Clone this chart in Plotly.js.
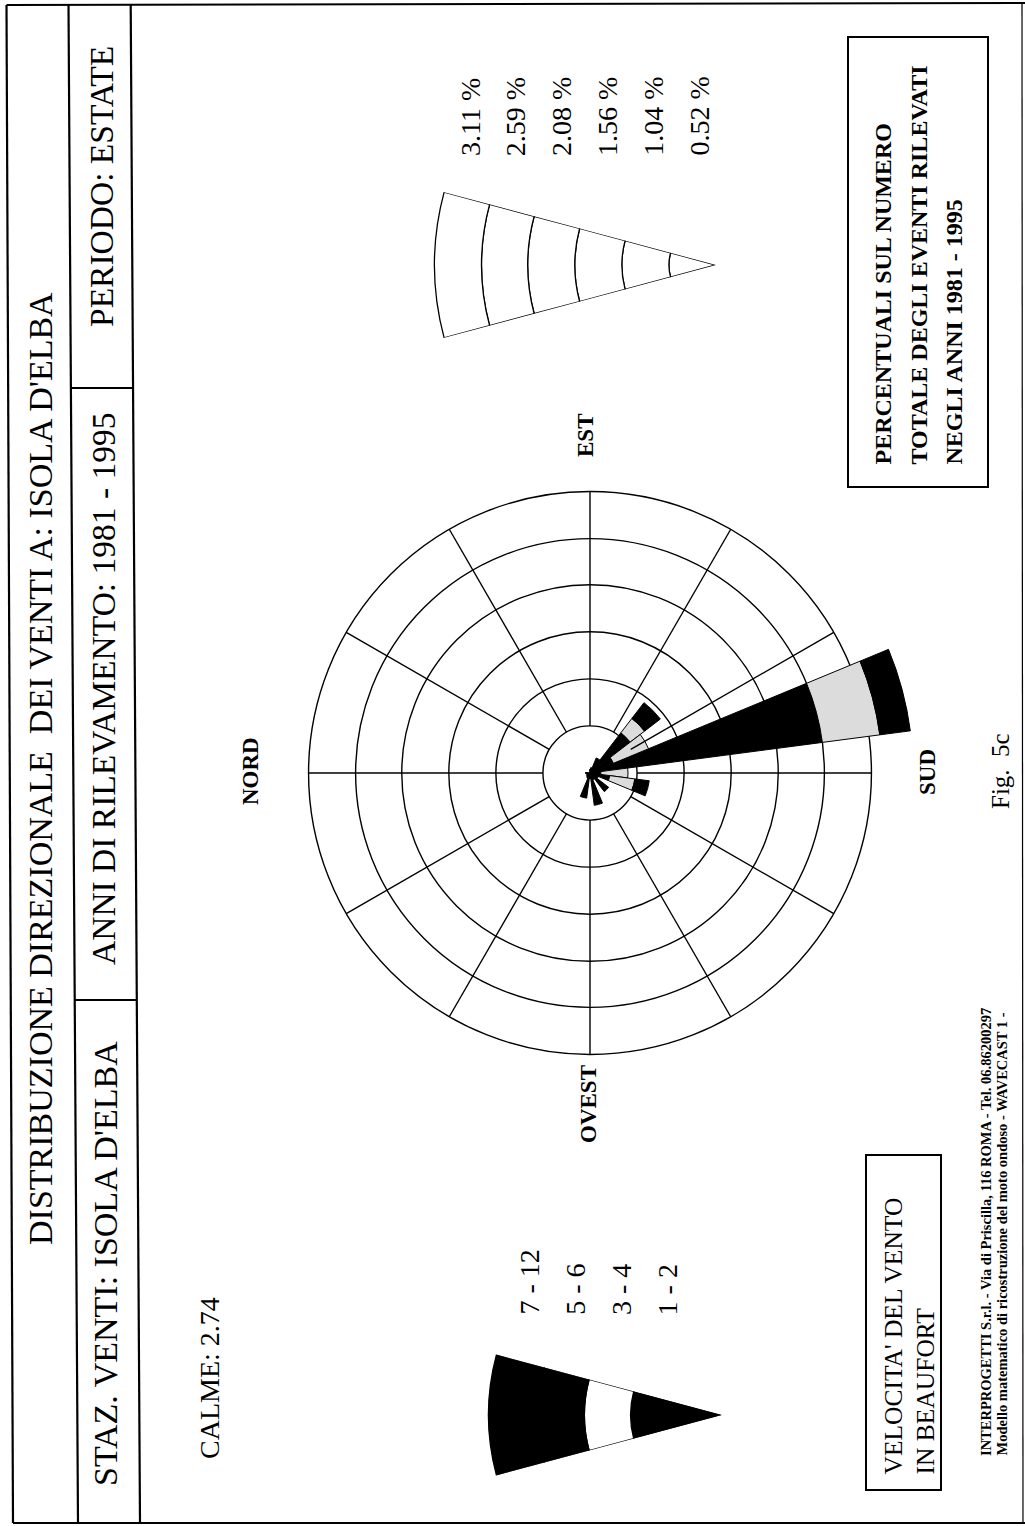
<!DOCTYPE html>
<html>
<head>
<meta charset="utf-8">
<script src="https://cdn.plot.ly/plotly-3.0.1.min.js"></script>
<style>
html,body{margin:0;padding:0;background:#fff;}
#chart{width:1025px;height:1526px;}
</style>
</head>
<body>
<div id="chart"></div>
<script>
// ---------------- DATA ----------------
// wind directions (degrees from North, 15-degree sectors)
const directions = [0,15,30,45,60,75,90,105,120,135,150,165,180,195,210,225,240,255,270,285,300,315,330,345];
// frequency (%) per Beaufort class, stacked outward
const beaufort1_2  = [0.05,0,0,0,0,0,0.04,0.06,0.18,0.56,0.28,2.59,0.12,0.22,0.10,0.26,0.08,0.36,0.06,0.28,0.06,0.05,0.04,0.03];
const beaufort3_4  = [0,0,0,0,0,0,0,0,0,0.20,0.42,0.64,0.30,0.28,0,0,0,0,0,0,0,0,0,0];
const beaufort5_6  = [0,0,0,0,0,0,0,0,0,0.22,0,0.34,0,0.16,0,0,0,0,0,0,0,0,0,0];
const beaufort7_12 = [0,0,0,0,0,0,0,0,0,0,0,0,0,0,0,0,0,0,0,0,0,0,0,0];
// percentage rings
const ringValues = [0.52,1.04,1.56,2.08,2.59,3.11];
const ringLabels = ["3.11 %","2.59 %","2.08 %","1.56 %","1.04 %","0.52 %"];
const spokeDirections = [0,30,60,90,120,150,180,210,240,270,300,330];
const compassLabels = ["NORD","EST","SUD","OVEST"];
// Beaufort legend key
const beaufortClasses = ["7 - 12","5 - 6","3 - 4","1 - 2"];
const beaufortKeyBands = [1.01,0.51,0.51,0.55]; // 1-2, 3-4, 5-6, 7-12
const calme = 2.74;

// ---------------- HELPERS ----------------
const W = 1025, H = 1526;
const PX = x => x / W;
const PY = y => 1 - y / H;
const SCALE = 90.5;              // px per 1 %
const FONT = "Liberation Serif, Times New Roman, serif";
const BLACK = "#000";
const STIPPLE = "#dcdcdc";

function domainFor(cx, cy, rmax) {
  const R = rmax * SCALE;
  return {x: [PX(cx - R), PX(cx + R)], y: [PY(cy + R), PY(cy - R)]};
}
function sectorDomain(tipX, tipY, rmax) {
  const R = rmax * SCALE;
  const h = R * Math.sin(15 * Math.PI / 180);
  return {x: [PX(tipX - R), PX(tipX)], y: [PY(tipY + h), PY(tipY - h)]};
}
function nz(arr) { // keep non-zero entries
  const r = [], t = [];
  arr.forEach((v, i) => { if (v > 0) { r.push(v); t.push(directions[i]); } });
  return {r, t};
}

const traces = [];

// spokes (from inner ring to outer ring)
const spR = [], spT = [];
spokeDirections.forEach(d => {
  spR.push(ringValues[0], ringValues[ringValues.length - 1], null);
  spT.push(d, d, null);
});
traces.push({
  type: "scatterpolar", subplot: "polar", mode: "lines",
  r: spR, theta: spT, connectgaps: false,
  line: {color: BLACK, width: 1.4}, hoverinfo: "skip", showlegend: false
});

// wind bars
const classes = [
  {v: beaufort1_2, c: BLACK},
  {v: beaufort3_4, c: STIPPLE},
  {v: beaufort5_6, c: BLACK},
  {v: beaufort7_12, c: BLACK}
];
classes.forEach(cl => {
  const d = nz(cl.v);
  if (!d.r.length) return;
  traces.push({
    type: "barpolar", subplot: "polar",
    r: d.r, theta: d.t, width: d.r.map(() => 15),
    marker: {color: cl.c, line: {color: BLACK, width: 1}},
    hoverinfo: "skip", showlegend: false
  });
});

// percentage key wedge
ringValues.forEach((v, i) => {
  const prev = i === 0 ? 0 : ringValues[i - 1];
  traces.push({
    type: "barpolar", subplot: "polar2",
    r: [v - prev], theta: [180], width: [30],
    marker: {color: "#fff", line: {color: BLACK, width: 1.3}},
    hoverinfo: "skip", showlegend: false
  });
});

// Beaufort key wedge
const keyColors = [BLACK, "#fff", BLACK, BLACK];
beaufortKeyBands.forEach((v, i) => {
  traces.push({
    type: "barpolar", subplot: "polar3",
    r: [v], theta: [180], width: [30],
    marker: {color: keyColors[i], line: {color: BLACK, width: 1.3}},
    hoverinfo: "skip", showlegend: false
  });
});

const hiddenAngular = {showline: false, showgrid: false, showticklabels: false, ticks: ""};
const mainRmax = 3.6;
const pctRmax = ringValues[ringValues.length - 1] * 1.01;
const keyTotal = beaufortKeyBands.reduce((a, b) => a + b, 0);
const keyRmax = keyTotal * 1.01;

// ---------------- ANNOTATIONS ----------------
const ann = [];
function vtext(text, x, y, size, opts) {
  opts = opts || {};
  ann.push({
    text: text, x: PX(x), y: PY(y), xref: "paper", yref: "paper",
    showarrow: false, textangle: -90,
    xanchor: "center", yanchor: opts.yanchor || "middle",
    align: "left",
    font: {family: FONT, size: size, color: BLACK, weight: opts.bold ? "bold" : "normal"}
  });
}
// header
vtext("DISTRIBUZIONE DIREZIONALE&nbsp; DEI VENTI A: ISOLA D'ELBA", 41, 769, 34);
vtext("STAZ. VENTI: ISOLA D'ELBA", 105, 1264, 34);
vtext("ANNI DI RILEVAMENTO: 1981 - 1995", 103, 689, 33.5);
vtext("PERIODO: ESTATE", 101, 187, 33.5);
// calme
vtext("CALME: " + calme.toFixed(2), 209, 1378, 28);
// percent labels
ringLabels.forEach((t, i) => vtext(t, 470 + i * 45.8, 158, 28, {yanchor: "bottom"}));
// Beaufort labels
beaufortClasses.forEach((t, i) => vtext(t, 529 + i * 46.3, 1317, 28, {yanchor: "bottom"}));
// compass labels
vtext(compassLabels[0], 250, 771, 23, {bold: true});
vtext(compassLabels[1], 585, 436, 23, {bold: true});
vtext(compassLabels[2], 927, 772, 23, {bold: true});
vtext(compassLabels[3], 588, 1104, 23, {bold: true});
// figure number
vtext("Fig.&nbsp; 5c", 1000, 771, 25);
// box texts
vtext("PERCENTUALI SUL NUMERO", 882, 467, 24, {yanchor: "bottom", bold: true});
vtext("TOTALE DEGLI EVENTI RILEVATI", 918, 467, 24, {yanchor: "bottom", bold: true});
vtext("NEGLI ANNI 1981 - 1995", 953, 467, 24, {yanchor: "bottom", bold: true});
vtext("VELOCITA' DEL VENTO", 893, 1477, 25.5, {yanchor: "bottom"});
vtext("IN BEAUFORT", 925, 1477, 25.5, {yanchor: "bottom"});
// footer
vtext("INTERPROGETTI S.r.l. - Via di Priscilla, 116 ROMA - Tel. 06.86200297", 986, 1458, 14.5, {yanchor: "bottom", bold: true});
vtext("Modello matematico di ricostruzione del moto ondoso - WAVECAST 1 -", 1001, 1458, 14.5, {yanchor: "bottom", bold: true});

// ---------------- SHAPES ----------------
const shapes = [];
function seg(x0, y0, x1, y1, w) {
  shapes.push({type: "line", xref: "paper", yref: "paper",
    x0: PX(x0), y0: PY(y0), x1: PX(x1), y1: PY(y1),
    line: {color: BLACK, width: w || 2}});
}
function rect(x0, y0, x1, y1, w) {
  shapes.push({type: "rect", xref: "paper", yref: "paper",
    x0: PX(x0), y0: PY(y0), x1: PX(x1), y1: PY(y1),
    line: {color: BLACK, width: w || 2}, fillcolor: "rgba(0,0,0,0)"});
}
// page frame (slightly skewed like the scan)
seg(6.5, 5, 13, 1523, 2.2);
seg(68.5, 5, 78, 1523, 2.2);
seg(130.7, 5, 140, 1523, 2.2);
seg(6.5, 5, 1025, 3, 2.2);
seg(13, 1523, 1025, 1523, 2);
seg(1022, 3, 1023, 1523, 1.2);
// header cell dividers
seg(70.9, 388, 133.1, 388, 2.2);
seg(74.8, 1000, 136.8, 1000, 2.2);
// text boxes
rect(848, 37, 988, 487, 2);
rect(866, 1155, 941, 1490, 2);

const layout = {
  width: W, height: H,
  margin: {l: 0, r: 0, t: 0, b: 0},
  paper_bgcolor: "#fff",
  showlegend: false,
  polar: {
    domain: domainFor(590, 773, mainRmax),
    bgcolor: "rgba(0,0,0,0)",
    barmode: "stack",
    angularaxis: Object.assign({rotation: 180, direction: "clockwise"}, hiddenAngular),
    radialaxis: {range: [0, mainRmax], tickmode: "array", tickvals: ringValues,
      showgrid: true, gridcolor: BLACK, gridwidth: 1.4,
      showline: false, showticklabels: false, ticks: ""}
  },
  polar2: {
    domain: sectorDomain(716, 265, pctRmax),
    sector: [165, 195],
    bgcolor: "rgba(0,0,0,0)",
    barmode: "stack",
    angularaxis: Object.assign({rotation: 0, direction: "counterclockwise"}, hiddenAngular),
    radialaxis: {range: [0, pctRmax], showgrid: false, showline: false, showticklabels: false, ticks: ""}
  },
  polar3: {
    domain: sectorDomain(722, 1415, keyRmax),
    sector: [165, 195],
    bgcolor: "rgba(0,0,0,0)",
    barmode: "stack",
    angularaxis: Object.assign({rotation: 0, direction: "counterclockwise"}, hiddenAngular),
    radialaxis: {range: [0, keyRmax], showgrid: false, showline: false, showticklabels: false, ticks: ""}
  },
  annotations: ann,
  shapes: shapes
};

Plotly.newPlot("chart", traces, layout, {staticPlot: true, displayModeBar: false});
</script>
</body>
</html>
